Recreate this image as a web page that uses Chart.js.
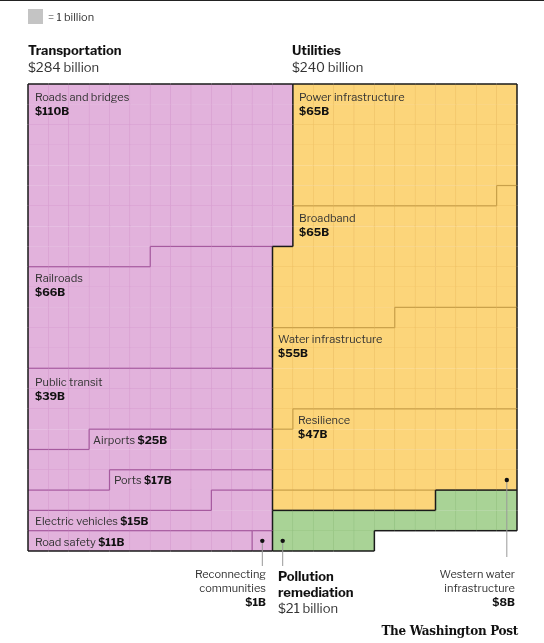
<!DOCTYPE html>
<html><head><meta charset="utf-8">
<script src="https://cdn.jsdelivr.net/npm/chart.js@4.4.0/dist/chart.umd.min.js"></script>
<style>
body{margin:0;background:#fff;font-family:"Libre Franklin","Roboto","Liberation Sans",sans-serif;}
#wrap{position:relative;width:544px;height:643px;border-top:1.5px solid #222;box-sizing:border-box;overflow:hidden}
canvas{position:absolute;left:0;top:0}
.t{position:absolute;font-size:11px;color:#333;line-height:14px;white-space:nowrap}
.b{font-weight:bold;color:#111}
.h{font-size:13px;line-height:16px}
.r{text-align:right}
</style></head><body>
<div id="wrap"><canvas id="c" width="544" height="641"></canvas>
<div style="position:absolute;left:28px;top:8px;width:15px;height:15px;background:#c4c4c4"></div>
<div class="t" style="left:48px;top:9px">= 1 billion</div>
<div class="t h b" style="left:28px;top:41px">Transportation</div>
<div class="t h" style="left:28px;top:58px">$284 billion</div>
<div class="t h b" style="left:292px;top:41px">Utilities</div>
<div class="t h" style="left:292px;top:58px">$240 billion</div>
<div class="t" style="left:35px;top:89px">Roads and bridges<br><span class="b">$110B</span></div>
<div class="t" style="left:35px;top:270px">Railroads<br><span class="b">$66B</span></div>
<div class="t" style="left:35px;top:374px">Public transit<br><span class="b">$39B</span></div>
<div class="t" style="left:93px;top:432px">Airports <span class="b">$25B</span></div>
<div class="t" style="left:114px;top:472px">Ports <span class="b">$17B</span></div>
<div class="t" style="left:35px;top:513px">Electric vehicles <span class="b">$15B</span></div>
<div class="t" style="left:35px;top:534px">Road safety <span class="b">$11B</span></div>
<div class="t" style="left:299px;top:89px">Power infrastructure<br><span class="b">$65B</span></div>
<div class="t" style="left:299px;top:210px">Broadband<br><span class="b">$65B</span></div>
<div class="t" style="left:278px;top:331px">Water infrastructure<br><span class="b">$55B</span></div>
<div class="t" style="left:298px;top:412px">Resilience<br><span class="b">$47B</span></div>
<div class="t r" style="right:278px;top:566px">Reconnecting<br>communities<br><span class="b">$1B</span></div>
<div class="t h b" style="left:278px;top:567px">Pollution<br>remediation</div>
<div class="t h" style="left:278px;top:599px">$21 billion</div>
<div class="t r" style="right:29px;top:566px">Western water<br>infrastructure<br><span class="b">$8B</span></div>
<div class="t b" style="right:26px;top:623px;font-family:'DejaVu Serif',serif;font-size:12px;letter-spacing:-0.3px">The Washington Post</div>
</div>
<script>
const transportLabels=["Roads and bridges","Railroads","Public transit","Airports","Ports","Electric vehicles","Road safety","Reconnecting communities"];
const transportValues=[110,66,39,25,17,15,11,1];
const utilityLabels=["Power infrastructure","Broadband","Water infrastructure","Resilience","Western water infrastructure"];
const utilityValues=[65,65,55,47,8];
const pollutionLabels=["Pollution remediation"];
const pollutionValues=[21];
const COLS=24, ROWS=23;
// region cell order (row-major)
function region(fn){const a=[];for(let r=0;r<ROWS;r++)for(let c=0;c<COLS;c++)if(fn(r,c))a.push([r,c]);return a;}
const tCells=region((r,c)=>r<8?c<13:c<12);
const uCells=region((r,c)=>(r<8&&c>=13)||(r>=8&&r<20&&c>=12)||(r==20&&c>=12&&c<20));
const pCells=region((r,c)=>(r==20&&c>=20)||(r==21&&c>=12)||(r==22&&c>=12&&c<17));
const grid=[...Array(ROWS)].map(()=>Array(COLS).fill(null));
const datasets=[];
function fill(cells,vals,major,bg,bd){let k=0;vals.forEach((v,i)=>{const data=[];for(let j=0;j<v;j++){const [r,c]=cells[k++];grid[r][c]={m:major,s:i};data.push({x:String(c),y:[r,r+1]});}
datasets.push({data,backgroundColor:bg,borderColor:bd,borderWidth:0.6,grouped:false,barPercentage:1,categoryPercentage:1});});}
fill(tCells,transportValues,0,'#e2b2dc','#d69bcf');
fill(uCells,utilityValues,1,'#fcd57a','#eec064');
fill(pCells,pollutionValues,2,'#a9d396','#93c280');
const subCol=['#a65a9f','#c8a04a','#6d9a5a'];
const borders={id:'borders',afterDatasetsDraw(ch){const x=ch.scales.x,y=ch.scales.y,g=ch.ctx;
const xl=c=>x.getPixelForValue(c)-(x.getPixelForValue(1)-x.getPixelForValue(0))/2;
const yp=r=>y.getPixelForValue(r);
function seg(x1,y1,x2,y2,col,w){g.beginPath();g.strokeStyle=col;g.lineWidth=w;g.moveTo(x1,y1);g.lineTo(x2,y2);g.stroke();}
for(let r=0;r<ROWS;r++)for(let c=0;c<COLS;c++){const a=grid[r][c];
 const nb=[[r,c+1,'v'],[r+1,c,'h'],[r,c-1,'vl'],[r-1,c,'ht']];
 nb.forEach(([rr,cc,t])=>{const b=(rr>=0&&rr<ROWS&&cc>=0&&cc<COLS)?grid[rr][cc]:null;
  if(!a&&!b)return; if((t=='vl'||t=='ht')&&b)return; if(!a)return;
  let col,w; if(!b||a.m!=b.m){col='#1a1a1a';w=1.5;} else if(a.s!=b.s){col=subCol[a.m];w=1.2;} else return;
  if(t=='v')seg(xl(c+1),yp(r),xl(c+1),yp(r+1),col,w);
  if(t=='vl')seg(xl(c),yp(r),xl(c),yp(r+1),col,w);
  if(t=='h')seg(xl(c),yp(r+1),xl(c+1),yp(r+1),col,w);
  if(t=='ht')seg(xl(c),yp(r),xl(c+1),yp(r),col,w);});}
// callout dots
[[10.5+1,22.5,565],[12.5,22.5,565],[23.5,19.5,556]].forEach(([cx,ry,end])=>{const px=xl(cx),py=yp(ry);
 seg(px,py,px,end,'#999',1);g.beginPath();g.fillStyle='#111';g.arc(px,py,2.2,0,7);g.fill();});
}};
new Chart(document.getElementById('c'),{type:'bar',data:{labels:[...Array(COLS)].map((_,i)=>String(i)),datasets},
options:{responsive:false,animation:false,events:[],layout:{padding:{left:28,right:27,top:83,bottom:91}},
plugins:{legend:{display:false},tooltip:{enabled:false}},
scales:{x:{display:false,offset:true},y:{display:false,min:0,max:ROWS,reverse:true}}},plugins:[borders]});
</script></body></html>
